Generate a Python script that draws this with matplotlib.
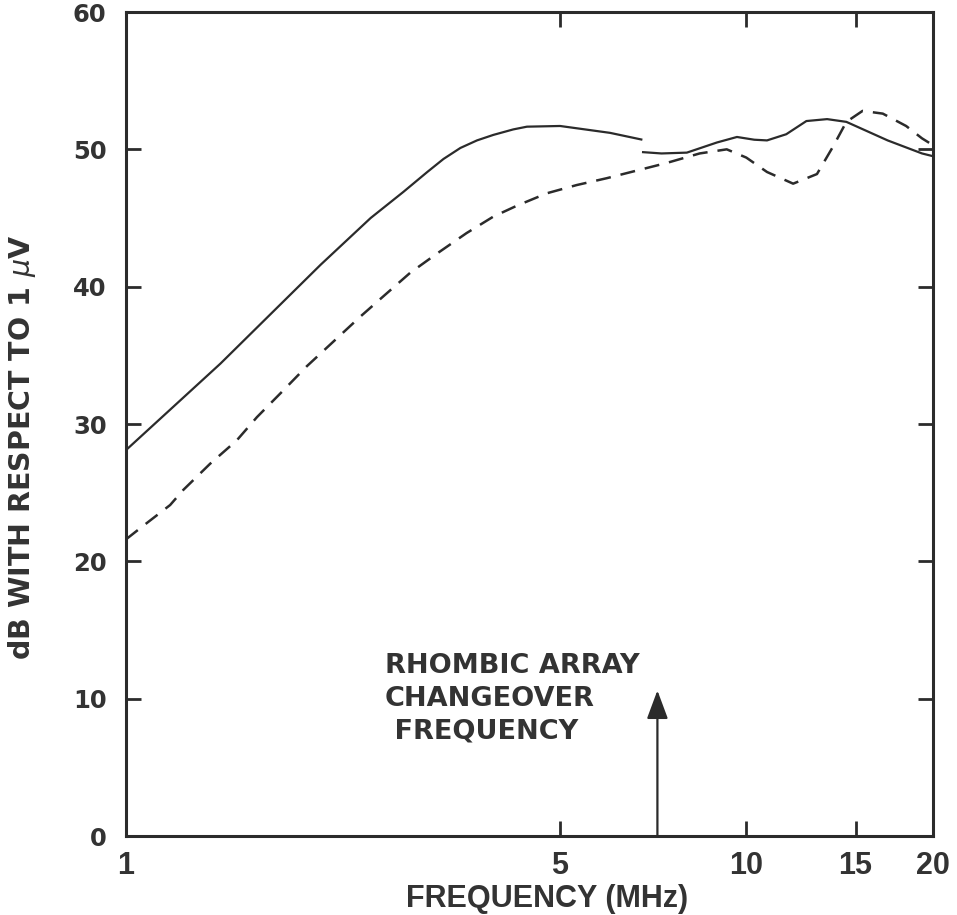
import matplotlib
matplotlib.use('Agg')
import matplotlib.pyplot as plt

ink = '#2b2b2b'
txt = '#333333'

# solid curve, first piece (up to the changeover region)
f_solid_a = [1.0, 1.42, 2.06, 2.48, 2.8, 3.06, 3.25, 3.46, 3.68, 3.91, 4.21, 4.43, 5.01, 6.03, 6.8]
db_solid_a = [28.1, 34.4, 41.6, 45.0, 46.9, 48.35, 49.3, 50.1, 50.65, 51.05, 51.45, 51.65, 51.7, 51.2, 50.7]

# solid curve, second piece
f_solid_b = [6.79, 7.3, 8.02, 8.97, 9.66, 10.3, 10.8, 11.6, 12.5, 13.5, 14.5, 16.9, 19.2, 20.0]
db_solid_b = [49.8, 49.7, 49.76, 50.5, 50.9, 50.7, 50.65, 51.1, 52.06, 52.2, 52.0, 50.65, 49.7, 49.5]

# dashed curve
f_dash = [1.0, 1.06, 1.178, 1.237, 1.366, 1.508, 1.626, 1.78, 1.956, 2.384, 2.6, 2.87,
          3.17, 3.54, 3.91, 4.27, 4.77, 5.33, 5.96, 7.43, 8.41, 9.3, 10.0, 10.8, 11.9,
          13.0, 13.8, 14.5, 15.4, 16.6, 18.1, 19.2, 20.0]
db_dash = [21.6, 22.5, 24.1, 25.2, 27.1, 28.8, 30.5, 32.3, 34.2, 37.8, 39.3, 41.0,
           42.4, 43.9, 45.1, 45.9, 46.8, 47.4, 47.9, 49.0, 49.7, 50.0, 49.4, 48.35, 47.5,
           48.2, 50.2, 52.0, 52.8, 52.6, 51.7, 50.8, 50.3]

changeover_f = 7.19
arrow_top_db = 10.6

x_ticks = [1, 5, 10, 15, 20]
y_ticks = [0, 10, 20, 30, 40, 50, 60]

fig = plt.figure(figsize=(9.57, 9.15), dpi=100)
ax = fig.add_axes([126 / 957, 1 - 836 / 915, 807 / 957, 824 / 915])

ax.plot(f_solid_a, db_solid_a, color=ink, lw=1.6, solid_capstyle='butt')
ax.plot(f_solid_b, db_solid_b, color=ink, lw=1.6, solid_capstyle='butt')
ax.plot(f_dash, db_dash, color=ink, lw=1.8, dashes=(6, 4))

ax.annotate('', xy=(changeover_f, arrow_top_db), xytext=(changeover_f, 0),
            arrowprops=dict(arrowstyle='-|>,head_length=1.75,head_width=0.65',
                            color=ink, lw=1.6, shrinkA=0, shrinkB=0))
ax.text(0.321, 0.222, 'RHOMBIC ARRAY\nCHANGEOVER\n FREQUENCY', transform=ax.transAxes,
        ha='left', va='top', fontsize=19.5, family='DejaVu Sans', weight='bold',
        color=txt, linespacing=1.34)

ax.set_xscale('log')
ax.set_xlim(1, 20)
ax.set_ylim(0, 60)
ax.set_xticks(x_ticks)
ax.set_xticklabels([str(v) for v in x_ticks], family='Liberation Sans',
                   weight='bold', fontsize=22)
ax.minorticks_off()
ax.set_yticks(y_ticks)
ax.set_yticklabels([str(v) for v in y_ticks], family='DejaVu Sans', weight='bold',
                   fontsize=17.5)
ax.tick_params(direction='in', length=11, width=2, color=ink, labelcolor=txt,
               top=True, right=True)
ax.tick_params(axis='x', pad=11)
ax.tick_params(axis='y', pad=14)
for s in ax.spines.values():
    s.set_linewidth(2.2)
    s.set_color(ink)

ax.set_xlabel('FREQUENCY (MHz)', family='Liberation Sans', weight='bold',
              fontsize=22, color=txt)
ax.xaxis.set_label_coords(0.522, -0.058)
fig.text(22 / 957, 1 - 447 / 915, 'dB WITH RESPECT TO 1 $\\mu$V', rotation=90,
         ha='center', va='center', fontsize=20.5, family='DejaVu Sans', weight='bold',
         color=txt)

fig.savefig('out.png', dpi=100, facecolor='white')
